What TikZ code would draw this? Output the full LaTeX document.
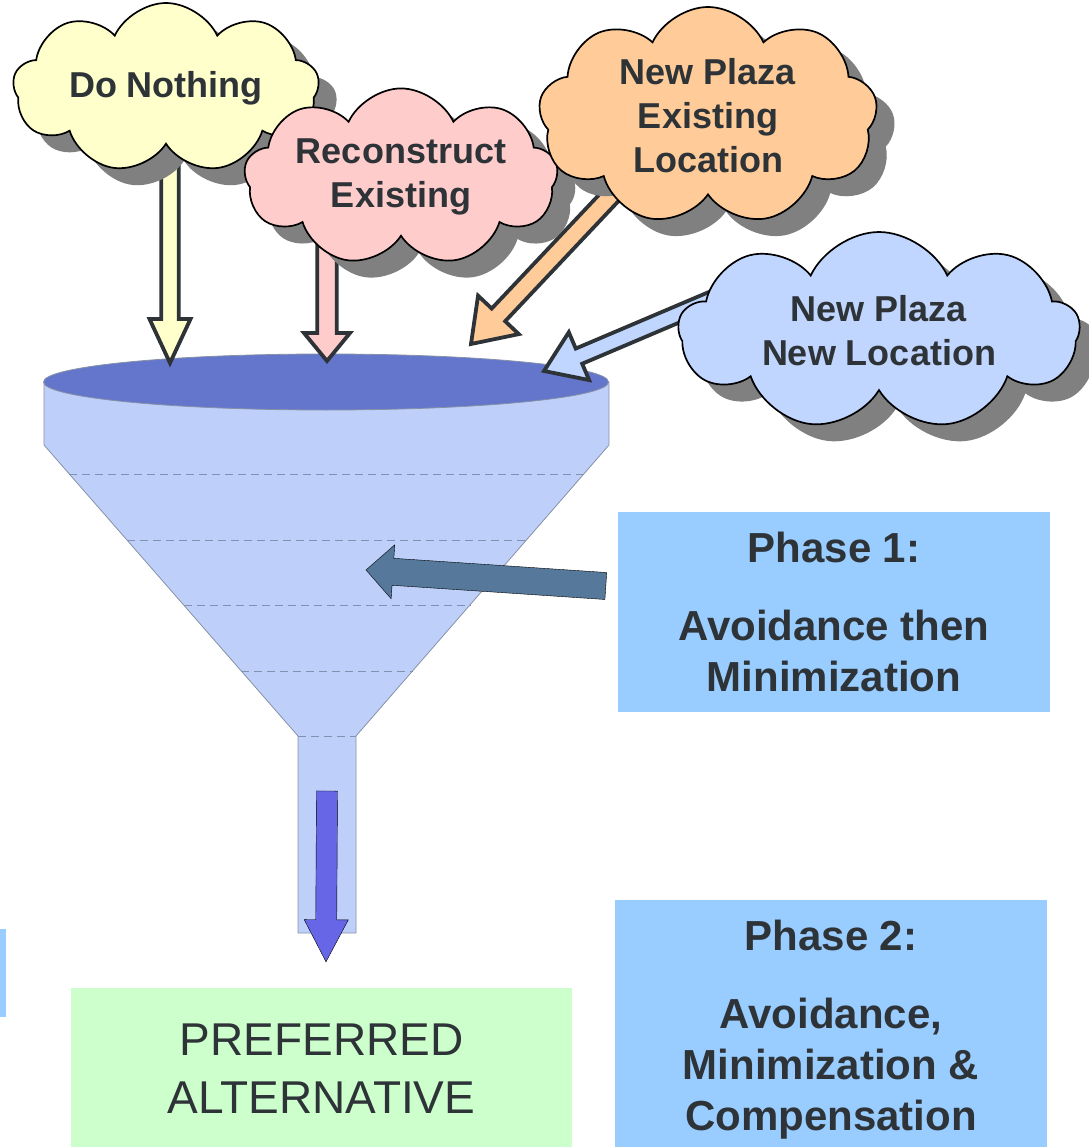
\documentclass[tikz,border=0pt]{standalone}
\usepackage{fontspec}
\setmainfont{Liberation Sans}
\usepackage{tikz}
\usetikzlibrary{shapes.geometric, shapes.symbols, shadows, calc}
\definecolor{inkGray}{RGB}{46,51,56}
\definecolor{nothingYellow}{RGB}{255,255,204}
\definecolor{rebuildPink}{RGB}{255,204,204}
\definecolor{plazaOrange}{RGB}{255,204,153}
\definecolor{plazaBlue}{RGB}{192,214,255}
\definecolor{shadowGray}{RGB}{128,128,128}
\definecolor{funnelBlue}{RGB}{190,208,250}
\definecolor{mouthBlue}{RGB}{100,118,204}
\definecolor{funnelEdge}{RGB}{135,145,165}
\definecolor{levelGray}{RGB}{130,145,175}
\definecolor{phaseBlue}{RGB}{153,204,255}
\definecolor{steelArrow}{RGB}{85,120,155}
\definecolor{flowBlue}{RGB}{102,102,230}
\definecolor{resultGreen}{RGB}{204,255,204}
\pgfdeclarelayer{back}
\pgfsetlayers{back,main}
\tikzstyle{cloudNode} = [cloud, cloud puffs=9, cloud puff arc=130, cloud ignores aspect, draw=black, line width=1.7pt, text=inkGray, font=\fontsize{36}{44}\selectfont\bfseries, align=center, drop shadow={shadow xshift=18pt, shadow yshift=-17pt, fill=shadowGray, opacity=1}]
\tikzstyle{phaseBox} = [rectangle, fill=phaseBlue, text=inkGray, font=\fontsize{42}{51}\selectfont\bfseries, align=center, inner sep=0pt]
\tikzstyle{resultBox} = [rectangle, fill=resultGreen, text=inkGray, font=\fontsize{46}{58}\selectfont, align=center, inner sep=0pt]
\tikzstyle{mouthNode} = [ellipse, fill=mouthBlue, draw=funnelEdge, line width=0.8pt, minimum width=565pt, minimum height=56pt, inner sep=0pt]
\tikzstyle{funnelBody} = [fill=funnelBlue, draw=funnelEdge, line width=0.8pt]
\tikzstyle{levelLine} = [draw=levelGray, line width=0.8pt, dash pattern=on 8pt off 5pt]
\tikzstyle{cloudArrow} = [draw=inkGray, line width=3.8pt, line join=miter]
\tikzstyle{phaseArrow} = [fill=steelArrow]
\tikzstyle{flowArrow} = [fill=flowBlue]
% block arrow: style, tail, tip, shaft half width, head half width, head length
\newcommand{\blockarrow}[6]{%
  \coordinate (baseTmp) at ($(#3)!#6!(#2)$);
  \draw[#1] ($(#2)!#4!90:(#3)$) -- ($(baseTmp)!#4!90:(#3)$) -- ($(baseTmp)!#5!90:(#3)$) -- (#3)
    -- ($(baseTmp)!#5!-90:(#3)$) -- ($(baseTmp)!#4!-90:(#3)$) -- ($(#2)!#4!-90:(#3)$) -- cycle;
}

\begin{document}
\begin{tikzpicture}[x=1pt, y=-1pt, node distance=413pt]
    \useasboundingbox (0,0) rectangle (1088,1147);
    % Alternatives
    \node (nothing) [cloudNode, fill=nothingYellow, minimum width=306pt, minimum height=170pt] at (166,88) {Do Nothing};
    \node (rebuild) [cloudNode, fill=rebuildPink, minimum width=293pt, minimum height=174pt] at (401,177) {Reconstruct\\Existing};
    \node (oldsite) [cloudNode, fill=plazaOrange, minimum width=339pt, minimum height=218pt] at (708,116) {New Plaza\\Existing\\Location};
    \node (newsite) [cloudNode, fill=plazaBlue, minimum width=401pt, minimum height=198pt] at (879,331) {New Plaza\\New Location};
    % Phases
    \node (phase1) [phaseBox, minimum width=432pt, minimum height=200pt] at (834,612) {Phase 1:\\[27pt]Avoidance then\\Minimization};
    \node (phase2) [phaseBox, minimum width=432pt, minimum height=260pt, below of=phase1, xshift=-3pt, yshift=-5pt] {Phase 2:\\[27pt]Avoidance,\\Minimization \&\\Compensation};
    % Result
    \node (result) [resultBox, minimum width=501pt, minimum height=162pt] at (321.5,1069) {PREFERRED\\ALTERNATIVE};
    \fill[phaseBlue] (0,929) rectangle (6,1017);

    \begin{pgfonlayer}{back}
    % Funnel
    \coordinate (lt) at (44,445);
    \coordinate (ls) at (298,736);
    \coordinate (rt) at (609,445);
    \coordinate (rs) at (356,736);
    \draw[funnelBody] (44,382) -- (lt) -- (ls) -- (298,933) -- (356,933) -- (rs) -- (rt) -- (609,382) -- cycle;
    \foreach \h in {474,540,605,671}
        \draw[levelLine] (intersection of lt--ls and 0,\h--1,\h) -- (intersection of rt--rs and 0,\h--1,\h);
    \draw[levelLine] (ls) -- (rs);
    \node (mouth) [mouthNode] at (326,382) {};

    % Inputs into the funnel
    \coordinate (inNothing) at (170,363);
    \coordinate (inRebuild) at (327,361);
    \coordinate (inOldsite) at (471,344);
    \coordinate (inNewsite) at (544,371);
    \coordinate (nothingTail) at (inNothing |- nothing);
    \coordinate (rebuildTail) at (inRebuild |- rebuild);
    \coordinate (oldsiteTail) at ($(oldsite)+(-22,0)$);
    \coordinate (newsiteTail) at ($(newsite)+(-149,-39)$);
    \blockarrow{cloudArrow, fill=nothingYellow}{nothingTail}{inNothing}{8.75pt}{20.5pt}{44pt}
    \blockarrow{cloudArrow, fill=rebuildPink}{rebuildTail}{inRebuild}{9.75pt}{23pt}{28pt}
    \blockarrow{cloudArrow, fill=plazaOrange}{oldsiteTail}{inOldsite}{9.25pt}{28pt}{40pt}
    \blockarrow{cloudArrow, fill=plazaBlue}{newsiteTail}{inNewsite}{8.25pt}{26pt}{38pt}

    % Phase 1 into the funnel
    \coordinate (phaseTail) at ($(phase1.west)+(-12,-26)$);
    \coordinate (phaseTip) at (366,570);
    \blockarrow{phaseArrow}{phaseTail}{phaseTip}{13.5pt}{27pt}{27pt}

    % Out of the funnel
    \coordinate (flowTail) at ($(ls)!0.5!(rs)+(0,55)$);
    \coordinate (flowTip) at ($(result.north)+(4.5,-26)$);
    \blockarrow{flowArrow}{flowTail}{flowTip}{10.5pt}{22pt}{42pt}
    \end{pgfonlayer}

\end{tikzpicture}
\end{document}
